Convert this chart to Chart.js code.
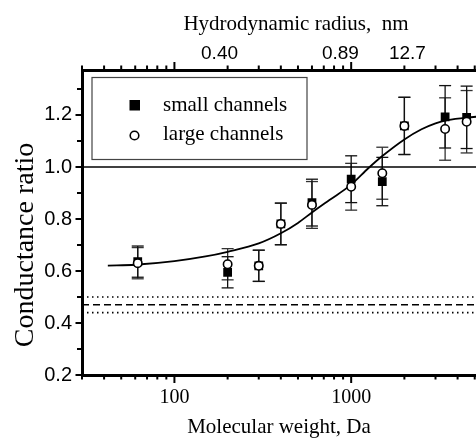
<!DOCTYPE html>
<html>
<head>
<meta charset="utf-8">
<script src="https://cdn.jsdelivr.net/npm/chart.js@4.4.1/dist/chart.umd.min.js"></script>
<style>
  html, body { margin: 0; padding: 0; background: #fff; overflow: hidden; }
  #wrap { width: 517px; height: 438px; }
</style>
</head>
<body>
<div id="wrap"><canvas id="conductanceChart" width="517" height="438"></canvas></div>
<script>
'use strict';

// molecular weight of the test molecules, Da
var molWeight        = [62, 200, 300, 400, 600, 1000, 1500, 2000, 3400, 4500];
var smallChannels    = [0.636, 0.595, 0.620, 0.781, 0.863, 0.953, 0.944, 1.158, 1.193, 1.191];
var smallChannelsErr = [0.06, 0.06, 0.06, 0.08, 0.09, 0.09, 0.093, 0.11, 0.12, 0.12];
var largeChannels    = [0.630, 0.626, 0.620, 0.781, 0.854, 0.924, 0.976, 1.158, 1.146, 1.174];
var largeChannelsErr = [0.06, 0.06, 0.06, 0.08, 0.09, 0.09, 0.10, 0.11, 0.12, 0.12];

// fitted curve
var fitWeight = [42, 60, 100, 150, 200, 300, 400, 500, 600, 750, 1000, 1250, 1500, 2000, 2500, 3000, 3500, 4500, 6000, 8000];
var fitRatio  = [0.621, 0.624, 0.638, 0.656, 0.674, 0.706, 0.745, 0.785, 0.825, 0.872, 0.932, 0.995, 1.042, 1.106, 1.145, 1.168, 1.180, 1.190, 1.196, 1.199];

// horizontal reference levels
var levelUnity    = 1.0;
var levelBulk     = 0.47;
var levelBulkLow  = 0.44;
var levelBulkHigh = 0.50;

// axes
var weightRange      = [30, 8000];
var ratioRange       = [0.2, 1.373];
var weightTicks      = [100, 1000];
var ratioTicks       = [0.2, 0.4, 0.6, 0.8, 1.0, 1.2];
var radiusTickWeight = [180, 869, 2080];
var radiusTickLabels = ['0.40', '0.89', '12.7'];

var serif = 'Liberation Serif';
var sans  = 'Liberation Sans';

function pairs(xs, ys) {
  return xs.map(function(x, i) { return { x: x, y: ys[i] }; });
}

function level(y) {
  return [{ x: weightRange[0], y: y }, { x: weightRange[1], y: y }];
}

function line(c, x1, y1, x2, y2) {
  c.beginPath();
  c.moveTo(x1, y1);
  c.lineTo(x2, y2);
  c.stroke();
}

//error bars go under the markers
var errorBars = {
  id: 'errorBars',
  beforeDatasetsDraw: function(chart) {
    var c = chart.ctx;
    var ys = chart.scales.y;
    c.save();
    chart.data.datasets.forEach(function(ds, i) {
      if (!ds.errors) return;
      var meta = chart.getDatasetMeta(i);
      c.strokeStyle = ds.errorColor;
      c.lineWidth = 1.3;
      meta.data.forEach(function(pt, j) {
        var v = ds.data[j].y;
        var top = ys.getPixelForValue(v + ds.errors[j]);
        var bot = ys.getPixelForValue(v - ds.errors[j]);
        line(c, pt.x, top, pt.x, bot);
        line(c, pt.x - 6, top, pt.x + 6, top);
        line(c, pt.x - 6, bot, pt.x + 6, bot);
      });
    });
    c.restore();
  }
};

// log ticks on top and bottom, minor ticks on y
var axisTicks = {
  id: 'axisTicks',
  afterDraw: function(chart) {
    var c = chart.ctx;
    var a = chart.chartArea;
    var xs = chart.scales.x;
    var ys = chart.scales.y;
    c.save();
    c.strokeStyle = '#000';
    c.lineWidth = 2;
    for (var p = 1; p <= 3; p++) {
      for (var m = 1; m <= 9; m++) {
        var v = m * Math.pow(10, p);
        if (v < weightRange[0] || v > weightRange[1]) continue;
        var px = xs.getPixelForValue(v);
        var len = m === 1 ? 8 : 4.5;
        line(c, px, a.bottom, px, a.bottom + len);
        line(c, px, a.top, px, a.top - len);
      }
    }
    for (var t = 2; t <= 13; t++) {
      var py = ys.getPixelForValue(t / 10);
      var l = t % 2 === 0 ? 6.5 : 5;
      line(c, a.left - l, py, a.left, py);
    }
    c.restore();
  }
};

var legendBox = {
  id: 'legendBox',
  afterDraw: function(chart) {
    var c = chart.ctx;
    var rows = chart.data.datasets.filter(function(ds) { return ds.inLegend; });
    c.save();
    c.fillStyle = '#fff';
    c.fillRect(92, 77.5, 215, 82);
    c.strokeStyle = '#444';
    c.lineWidth = 1.2;
    c.strokeRect(92, 77.5, 215, 82);
    c.font = '21px ' + serif;
    c.textBaseline = 'alphabetic';
    c.textAlign = 'left';
    rows.forEach(function(ds) {
      var cy = ds.legendY;
      if (ds.pointStyle === 'rect') {
        c.fillStyle = '#000';
        c.fillRect(129.5, cy - 5, 10.5, 10.5);
      } else {
        c.fillStyle = '#fff';
        c.strokeStyle = '#000';
        c.lineWidth = 1.6;
        c.beginPath();
        c.arc(134.5, cy, 4.3, 0, Math.PI * 2);
        c.fill();
        c.stroke();
      }
      c.fillStyle = '#000';
      c.fillText(ds.label, 163, cy + ds.legendBase);
    });
    c.restore();
  }
};

var axisTitles = {
  id: 'axisTitles',
  afterDraw: function(chart) {
    var c = chart.ctx;
    c.save();
    c.fillStyle = '#000';
    c.textAlign = 'center';
    c.textBaseline = 'alphabetic';
    c.font = '21px ' + serif;
    c.fillText('Hydrodynamic radius,  nm', 296, 30);
    c.fillText('Molecular weight, Da', 279, 433);
    c.font = '28px ' + serif;
    c.translate(33, 245);
    c.rotate(-Math.PI / 2);
    c.fillText('Conductance ratio', 0, 0);
    c.restore();
  }
};

var ctx = document.getElementById('conductanceChart').getContext('2d');
var conductanceChart = new Chart(ctx, {
  type: 'scatter',
  data: {
    datasets: [{
      label: 'large channels',
      data: pairs(molWeight, largeChannels),
      errors: largeChannelsErr,
      errorColor: '#333',
      inLegend: true,
      legendY: 135.5,
      legendBase: 4,
      pointStyle: 'circle',
      pointRadius: 4.2,
      backgroundColor: '#fff',
      borderColor: '#000',
      borderWidth: 1.6,
      order: 0
    }, {
      label: 'small channels',
      data: pairs(molWeight, smallChannels),
      errors: smallChannelsErr,
      errorColor: '#111',
      inLegend: true,
      legendY: 105,
      legendBase: 6,
      pointStyle: 'rect',
      pointRadius: 6.2,
      backgroundColor: '#000',
      borderColor: '#000',
      borderWidth: 0,
      order: 1
    }, {
      type: 'line',
      label: 'fit',
      data: pairs(fitWeight, fitRatio),
      borderColor: '#000',
      borderWidth: 1.8,
      pointRadius: 0,
      cubicInterpolationMode: 'monotone',
      fill: false,
      order: 2
    }, {
      type: 'line',
      label: 'unity',
      data: level(levelUnity),
      borderColor: '#000',
      borderWidth: 1.6,
      pointRadius: 0,
      order: 3
    }, {
      type: 'line',
      label: 'bulk high',
      data: level(levelBulkHigh),
      borderColor: '#000',
      borderWidth: 1.6,
      borderDash: [1.5, 3.5],
      pointRadius: 0,
      order: 3
    }, {
      type: 'line',
      label: 'bulk',
      data: level(levelBulk),
      borderColor: '#000',
      borderWidth: 1.6,
      borderDash: [7, 4],
      pointRadius: 0,
      order: 3
    }, {
      type: 'line',
      label: 'bulk low',
      data: level(levelBulkLow),
      borderColor: '#000',
      borderWidth: 1.6,
      borderDash: [1.5, 3.5],
      pointRadius: 0,
      order: 3
    }]
  },
  options: {
    responsive: false,
    animation: false,
    layout: { padding: 0 },
    plugins: {
      legend: { display: false },
      tooltip: { enabled: false }
    },
    scales: {
      x: {
        type: 'logarithmic',
        position: 'bottom',
        min: weightRange[0],
        max: weightRange[1],
        grid: { display: false, drawTicks: false },
        border: { display: true, color: '#000', width: 3 },
        afterBuildTicks: function(scale) {
          scale.ticks = weightTicks.map(function(v) { return { value: v }; });
        },
        afterFit: function(scale) { scale.height = 63; },
        ticks: {
          autoSkip: false,
          maxRotation: 0,
          padding: 11,
          color: '#000',
          font: { family: serif, size: 20 },
          callback: function(v) { return String(v); }
        }
      },
      x2: {
        type: 'logarithmic',
        position: 'top',
        display: true,
        min: weightRange[0],
        max: weightRange[1],
        grid: { display: false, drawTicks: false },
        border: { display: true, color: '#000', width: 3 },
        afterBuildTicks: function(scale) {
          scale.ticks = radiusTickWeight.map(function(v) { return { value: v }; });
        },
        afterFit: function(scale) { scale.height = 70; },
        ticks: {
          autoSkip: false,
          maxRotation: 0,
          padding: 5,
          color: '#000',
          font: { family: sans, size: 19 },
          callback: function(v, i) { return radiusTickLabels[i]; }
        }
      },
      y: {
        type: 'linear',
        min: ratioRange[0],
        max: ratioRange[1],
        grid: { display: false, drawTicks: false },
        border: { display: true, color: '#000', width: 3 },
        afterBuildTicks: function(scale) {
          scale.ticks = ratioTicks.map(function(v) { return { value: v }; });
        },
        afterFit: function(scale) { scale.width = 82; },
        ticks: {
          padding: 10,
          color: '#000',
          font: { family: sans, size: 20 },
          callback: function(v) { return v.toFixed(1); }
        }
      }
    }
  },
  plugins: [errorBars, axisTicks, legendBox, axisTitles]
});
</script>
</body>
</html>
